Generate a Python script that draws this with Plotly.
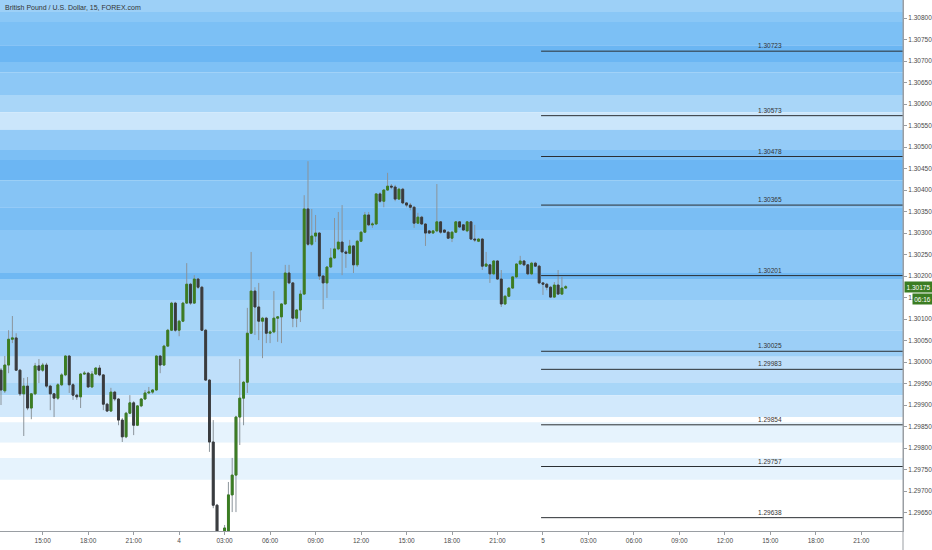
import pandas as pd
import plotly.graph_objects as go

# ---------------- data ----------------
start_time = "2019-09-03 12:15"
opens = [1.29981,1.29933,1.29993,1.30053,1.30056,1.29981,1.29926,1.29944,1.29893,1.29926,
         1.29991,1.29981,1.29993,1.29944,1.29926,1.29916,1.29947,1.29970,1.30014,1.29947,
         1.29923,1.29919,1.29972,1.29974,1.29942,1.29972,1.29986,1.29970,1.29902,1.29886,
         1.29930,1.29914,1.29865,1.29826,1.29881,1.29905,1.29853,1.29898,1.29914,1.29928,
         1.29930,1.29935,1.30014,1.29993,1.30037,1.30074,1.30137,1.30074,1.30095,1.30137,
         1.30181,1.30137,1.30193,1.30174,1.30074,1.29958,1.29814,1.29667,1.29591,1.29574,
         1.29598,1.29691,1.29737,1.29872,1.29916,1.29953,1.30067,1.30165,1.30128,1.30095,
         1.30102,1.30067,1.30070,1.30102,1.30105,1.30135,1.30207,1.30184,1.30102,1.30121,
         1.30158,1.30356,1.30274,1.30293,1.30300,1.30200,1.30184,1.30221,1.30242,1.30263,
         1.30279,1.30256,1.30253,1.30270,1.30226,1.30281,1.30302,1.30342,1.30319,1.30321,
         1.30391,1.30374,1.30400,1.30409,1.30407,1.30379,1.30402,1.30370,1.30365,1.30360,
         1.30323,1.30337,1.30321,1.30305,1.30300,1.30305,1.30326,1.30307,1.30302,1.30288,
         1.30302,1.30326,1.30319,1.30305,1.30326,1.30286,1.30281,1.30286,1.30223,1.30226,
         1.30205,1.30235,1.30193,1.30135,1.30153,1.30172,1.30198,1.30228,1.30235,1.30226,
         1.30205,1.30230,1.30223,1.30184,1.30181,1.30174,1.30151,1.30179,1.30158,1.30172]
highs = [1.29986,1.30014,1.30074,1.30107,1.30067,1.29984,1.29963,1.29965,1.29928,1.29998,
         1.30007,1.29998,1.29998,1.29947,1.29928,1.29951,1.29974,1.30016,1.30016,1.29951,
         1.29926,1.29974,1.29979,1.29977,1.29979,1.29988,1.29993,1.29972,1.29905,1.29940,
         1.29933,1.29916,1.29870,1.29884,1.29923,1.29909,1.29900,1.29916,1.29935,1.29942,
         1.29937,1.30016,1.30016,1.30040,1.30077,1.30140,1.30140,1.30098,1.30140,1.30230,
         1.30184,1.30202,1.30195,1.30177,1.30077,1.29960,1.29865,1.29670,1.29595,1.29621,
         1.29721,1.29777,1.29875,1.30007,1.29956,1.30126,1.30256,1.30174,1.30184,1.30105,
         1.30105,1.30074,1.30165,1.30107,1.30137,1.30226,1.30226,1.30186,1.30123,1.30167,
         1.30388,1.30467,1.30356,1.30342,1.30302,1.30202,1.30223,1.30265,1.30335,1.30349,
         1.30365,1.30260,1.30284,1.30272,1.30284,1.30305,1.30349,1.30349,1.30326,1.30393,
         1.30395,1.30402,1.30440,1.30414,1.30412,1.30405,1.30405,1.30372,1.30370,1.30363,
         1.30347,1.30340,1.30323,1.30307,1.30307,1.30414,1.30328,1.30309,1.30305,1.30305,
         1.30328,1.30328,1.30321,1.30328,1.30328,1.30319,1.30288,1.30288,1.30256,1.30228,
         1.30237,1.30237,1.30214,1.30156,1.30174,1.30200,1.30230,1.30247,1.30237,1.30228,
         1.30233,1.30233,1.30226,1.30186,1.30184,1.30177,1.30186,1.30214,1.30198,1.30179]
lows = [1.29900,1.29928,1.29974,1.30044,1.29981,1.29921,1.29828,1.29888,1.29867,1.29923,
        1.29951,1.29977,1.29940,1.29888,1.29872,1.29912,1.29944,1.29967,1.29928,1.29912,
        1.29912,1.29893,1.29970,1.29940,1.29940,1.29970,1.29967,1.29888,1.29884,1.29884,
        1.29909,1.29853,1.29814,1.29823,1.29879,1.29830,1.29851,1.29895,1.29912,1.29926,
        1.29926,1.29933,1.29974,1.29991,1.30035,1.30072,1.30070,1.30060,1.30093,1.30135,
        1.30133,1.30135,1.30170,1.30072,1.29956,1.29791,1.29660,1.29567,1.29551,1.29567,
        1.29586,1.29651,1.29651,1.29807,1.29853,1.29928,1.30065,1.30063,1.30051,1.30009,
        1.30044,1.30044,1.30067,1.30047,1.30044,1.30133,1.30181,1.30081,1.30081,1.30093,
        1.30156,1.30270,1.30270,1.30279,1.30191,1.30123,1.30149,1.30219,1.30240,1.30260,
        1.30202,1.30219,1.30251,1.30207,1.30221,1.30279,1.30300,1.30316,1.30312,1.30319,
        1.30370,1.30360,1.30398,1.30402,1.30374,1.30377,1.30367,1.30360,1.30353,1.30312,
        1.30321,1.30319,1.30270,1.30298,1.30298,1.30302,1.30298,1.30300,1.30286,1.30279,
        1.30300,1.30312,1.30305,1.30302,1.30284,1.30279,1.30279,1.30214,1.30221,1.30184,
        1.30202,1.30191,1.30128,1.30133,1.30151,1.30170,1.30195,1.30226,1.30223,1.30202,
        1.30202,1.30221,1.30181,1.30156,1.30167,1.30149,1.30149,1.30156,1.30156,1.30170]
closes = [1.29935,1.29993,1.30053,1.30056,1.29981,1.29926,1.29944,1.29893,1.29926,1.29991,
          1.29981,1.29993,1.29944,1.29926,1.29916,1.29947,1.29970,1.30014,1.29947,1.29923,
          1.29919,1.29972,1.29974,1.29942,1.29972,1.29986,1.29970,1.29902,1.29886,1.29930,
          1.29914,1.29865,1.29826,1.29881,1.29905,1.29853,1.29898,1.29914,1.29928,1.29930,
          1.29935,1.30014,1.29993,1.30037,1.30074,1.30137,1.30074,1.30095,1.30137,1.30181,
          1.30137,1.30193,1.30174,1.30074,1.29958,1.29814,1.29667,1.29591,1.29574,1.29614,
          1.29691,1.29737,1.29872,1.29916,1.29953,1.30067,1.30165,1.30128,1.30095,1.30102,
          1.30067,1.30070,1.30102,1.30105,1.30135,1.30207,1.30184,1.30102,1.30121,1.30158,
          1.30356,1.30274,1.30293,1.30300,1.30200,1.30184,1.30221,1.30242,1.30263,1.30279,
          1.30256,1.30253,1.30270,1.30226,1.30281,1.30302,1.30342,1.30319,1.30321,1.30391,
          1.30374,1.30400,1.30409,1.30407,1.30379,1.30402,1.30370,1.30365,1.30360,1.30323,
          1.30337,1.30321,1.30300,1.30300,1.30305,1.30326,1.30302,1.30302,1.30288,1.30302,
          1.30326,1.30314,1.30307,1.30326,1.30286,1.30284,1.30286,1.30223,1.30228,1.30205,
          1.30235,1.30193,1.30135,1.30153,1.30172,1.30198,1.30228,1.30235,1.30226,1.30205,
          1.30230,1.30223,1.30184,1.30181,1.30174,1.30151,1.30179,1.30158,1.30172,1.30175]

levels = [1.30723, 1.30573, 1.30478, 1.30365, 1.30201, 1.30025, 1.29983, 1.29854, 1.29757, 1.29638]
level_labels = ["1.30723", "1.30573", "1.30478", "1.30365", "1.30201",
                "1.30025", "1.29983", "1.29854", "1.29757", "1.29638"]

band_edges = [1.30842, 1.30814, 1.30791, 1.30737, 1.30698, 1.30674, 1.30621, 1.30581,
              1.30540, 1.30493, 1.30470, 1.30423, 1.30360, 1.30307, 1.30207, 1.30193,
              1.30144, 1.30074, 1.30012, 1.29951, 1.29923, 1.29872, 1.29860, 1.29812,
              1.29777, 1.29726]
band_colors = ["#9dd0f7", "#8ac7f6", "#7cc0f5", "#6bb6f3", "#7fc1f5", "#8dc8f6", "#a9d6f8",
               "#cbe6fb", "#94cbf7", "#7cbff5", "#6cb6f3", "#86c4f5", "#7abef4", "#8ac6f6",
               "#6fb8f3", "#92cbf7", "#a6d5f8", "#9ccff7", "#bfdffa", "#a8d6f8", "#d2e9fc",
               "#ffffff", "#e6f3fd", "#ffffff", "#e6f3fd"]

tick_times = ["2019-09-03 15:00", "2019-09-03 18:00", "2019-09-03 21:00", "2019-09-04 00:00",
              "2019-09-04 03:00", "2019-09-04 06:00", "2019-09-04 09:00", "2019-09-04 12:00",
              "2019-09-04 15:00", "2019-09-04 18:00", "2019-09-04 21:00", "2019-09-05 00:00",
              "2019-09-05 03:00", "2019-09-05 06:00", "2019-09-05 09:00", "2019-09-05 12:00",
              "2019-09-05 15:00", "2019-09-05 18:00", "2019-09-05 21:00"]
tick_text = ["15:00", "18:00", "21:00", "4", "03:00", "06:00", "09:00", "12:00", "15:00",
             "18:00", "21:00", "5", "03:00", "06:00", "09:00", "12:00", "15:00", "18:00", "21:00"]

price_ticks = [1.2965, 1.2970, 1.2975, 1.2980, 1.2985, 1.2990, 1.2995, 1.3000, 1.3005,
               1.3010, 1.3015, 1.3020, 1.3025, 1.3030, 1.3035, 1.3040, 1.3045, 1.3050,
               1.3055, 1.3060, 1.3065, 1.3070, 1.3075, 1.3080]

last_price = 1.30175
last_price_text = "1.30175"
countdown = "06:16"
title = "British Pound / U.S. Dollar, 15, FOREX.com"

x_range = ["2019-09-03 12:11", "2019-09-05 23:45"]
level_start = "2019-09-04 23:52:30"
level_label_x = "2019-09-05 15:00"

# ---------------- figure ----------------
times = pd.date_range(start_time, periods=len(opens), freq="15min")
body_hi = [max(o, c) for o, c in zip(opens, closes)]
body_lo = [min(o, c) for o, c in zip(opens, closes)]

BULL = "#3b7d22"
BEAR = "#393b3e"
WICK = "#8b949b"
FONT = "Liberation Sans, Arial, sans-serif"

fig = go.Figure()
# wicks
fig.add_trace(go.Candlestick(
    x=times, open=opens, high=highs, low=lows, close=closes,
    increasing=dict(line=dict(color=WICK, width=1), fillcolor=WICK),
    decreasing=dict(line=dict(color=WICK, width=1), fillcolor=WICK),
    whiskerwidth=0, hoverinfo="skip", showlegend=False))
# bodies
fig.add_trace(go.Candlestick(
    x=times, open=opens, high=body_hi, low=body_lo, close=closes,
    increasing=dict(line=dict(color=BULL, width=1), fillcolor=BULL),
    decreasing=dict(line=dict(color=BEAR, width=1), fillcolor=BEAR),
    whiskerwidth=0, hoverinfo="skip", showlegend=False))

shapes = []
for i, col in enumerate(band_colors):
    shapes.append(dict(type="rect", xref="paper", yref="y", x0=0, x1=1,
                       y0=band_edges[i + 1], y1=band_edges[i],
                       fillcolor=col, line=dict(width=0), layer="below"))
for lv in levels:
    shapes.append(dict(type="line", xref="x", yref="y", x0=level_start, x1=x_range[1],
                       y0=lv, y1=lv, line=dict(color="#2b2f33", width=1), layer="above"))
# axis frame extension on the right
shapes.append(dict(type="line", xref="paper", yref="paper", x0=1, x1=1, y0=-0.04, y1=1,
                   line=dict(color="#9a9ea3", width=1)))

annotations = []
for lv, lab in zip(levels, level_labels):
    annotations.append(dict(x=level_label_x, y=lv, xref="x", yref="y", text=lab,
                            showarrow=False, yanchor="bottom", yshift=0,
                            font=dict(family=FONT, size=6.5, color="#333333")))
annotations.append(dict(x=0.003, y=0.997, xref="paper", yref="paper", text=title,
                        showarrow=False, xanchor="left", yanchor="top",
                        font=dict(family=FONT, size=7, color="#333333")))
annotations.append(dict(x=1, y=last_price, xref="paper", yref="y", text=last_price_text,
                        showarrow=False, xanchor="left", yanchor="middle", xshift=1,
                        bgcolor=BULL, width=27, height=10, borderpad=0,
                        font=dict(family=FONT, size=6.5, color="#ffffff")))
annotations.append(dict(x=1, y=last_price, xref="paper", yref="y", text=countdown,
                        showarrow=False, xanchor="left", yanchor="top", xshift=9, yshift=-6,
                        bgcolor=BULL, width=19, height=10, borderpad=0,
                        font=dict(family=FONT, size=6.5, color="#ffffff")))

fig.update_layout(
    width=932, height=550,
    margin=dict(l=0, r=29, t=0, b=19, autoexpand=False),
    paper_bgcolor="#ffffff", plot_bgcolor="#ffffff",
    shapes=shapes, annotations=annotations,
    font=dict(family=FONT, size=6.5, color="#4a4a4a"),
    showlegend=False, hovermode=False,
    xaxis=dict(type="date", range=x_range, rangeslider=dict(visible=False),
               tickvals=tick_times, ticktext=tick_text, tickangle=0,
               ticks="outside", ticklen=3, tickcolor="#9a9ea3",
               showline=True, linecolor="#9a9ea3", linewidth=1,
               showgrid=False, zeroline=False, automargin=False,
               tickfont=dict(family=FONT, size=6.5, color="#4a4a4a")),
    yaxis=dict(side="right", range=[1.29607, 1.30842],
               tickvals=price_ticks, tickformat=".5f",
               ticks="outside", ticklen=3, tickcolor="#9a9ea3",
               showline=True, linecolor="#9a9ea3", linewidth=1,
               showgrid=False, zeroline=False, automargin=False,
               tickfont=dict(family=FONT, size=6.5, color="#4a4a4a")),
)

fig.write_html("out.html", config={"displayModeBar": False},
               post_script="document.body.style.margin='0';document.body.style.overflow='hidden';")
